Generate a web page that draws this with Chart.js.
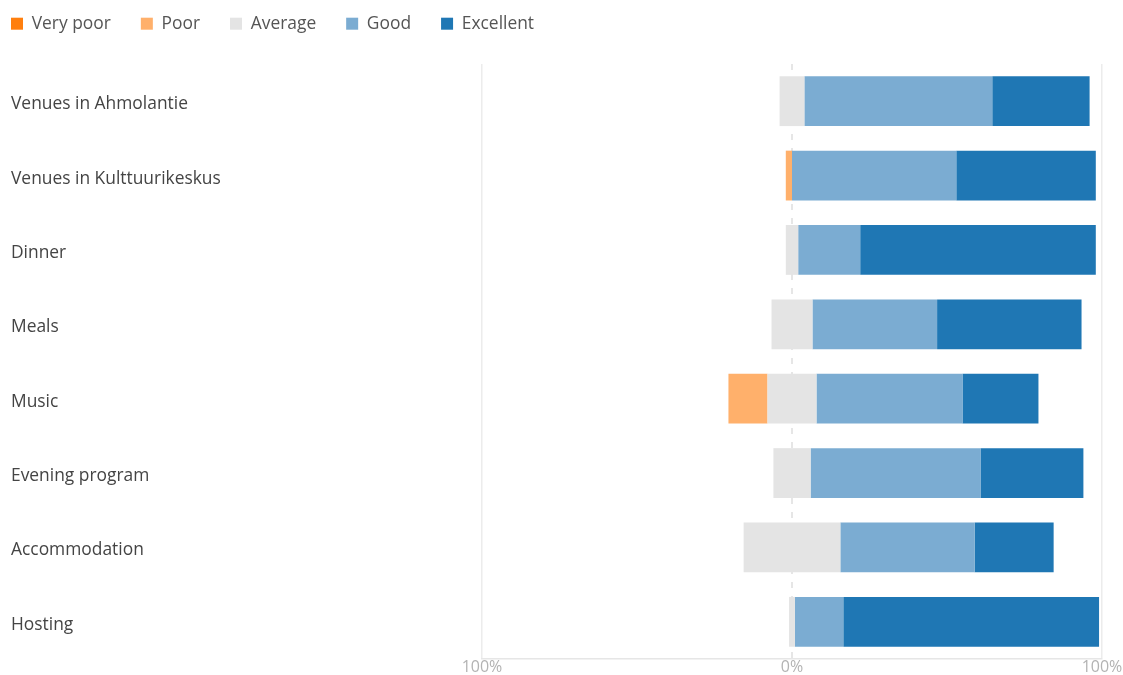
<!DOCTYPE html>
<html lang="en">
<head>
  <meta charset="UTF-8">
  <title>Feedback</title>
  <script src="https://cdn.jsdelivr.net/npm/chart.js"></script>
  <style>
    html, body {
      margin: 0;
      padding: 0;
      background: #fff;
    }
    #wrap {
      width: 1123px;
      height: 675px;
    }
  </style>
</head>
<body>
  <div id="wrap">
    <canvas id="chart"></canvas>
  </div>

  <script>
    // shares in percent
    const categories = ['Venues in Ahmolantie', 'Venues in Kulttuurikeskus', 'Dinner', 'Meals',
      'Music', 'Evening program', 'Accommodation', 'Hosting'];
    const veryPoor  = [0, 0, 0, 0, 0, 0, 0, 0];
    const poor      = [0, 2, 0, 0, 12.6, 0, 0, 0];
    const average   = [8, 0, 4, 13.2, 15.8, 12, 31.2, 1.9];
    const good      = [60.6, 53, 20, 40.2, 47.1, 54.8, 43.3, 15.6];
    const excellent = [31.4, 45, 76, 46.6, 24.5, 33.2, 25.5, 82.5];
    const xTicks = [-100, 0, 100];

    const FONT = "'Open Sans', 'Noto Sans', sans-serif";
    const legendRank = { 'Very poor': 0, 'Poor': 1, 'Average': 2, 'Good': 3, 'Excellent': 4 };

    // negative side stacks outwards from zero: half of average, poor, very poor
    const datasets = [
      { label: 'Average', data: average.map(v => -v / 2), backgroundColor: '#e4e4e4' },
      { label: 'Average2', data: average.map(v => v / 2), backgroundColor: '#e4e4e4' },
      { label: 'Poor', data: poor.map(v => -v), backgroundColor: '#ffb06b' },
      { label: 'Very poor', data: veryPoor.map(v => -v), backgroundColor: '#ff7f0e' },
      { label: 'Good', data: good, backgroundColor: '#7bacd2' },
      { label: 'Excellent', data: excellent, backgroundColor: '#1f77b4' }
    ];

    // dashed line at 0%
    const zeroLine = {
      id: 'zeroLine',
      beforeDatasetsDraw(chart) {
        const { ctx, chartArea, scales } = chart;
        const x = Math.round(scales.x.getPixelForValue(0));
        ctx.save();
        ctx.strokeStyle = '#dedede';
        ctx.lineWidth = 1.5;
        ctx.setLineDash([6, 8]);
        ctx.beginPath();
        ctx.moveTo(x, chartArea.top);
        ctx.lineTo(x, chartArea.bottom);
        ctx.stroke();
        ctx.restore();
      }
    };

    // legend sits tight in the top-left corner, plot starts lower down
    const legendPlace = {
      id: 'legendPlace',
      beforeLayout(chart) {
        const lg = chart.legend;
        if (lg && !lg._patched) {
          const fit = lg.fit;
          lg.fit = function () { fit.call(this); this.height = 64; };
          lg._patched = true;
        }
      },
      afterLayout(chart) {
        chart.legend.left = -19;
        chart.legend.top = -15;
      }
    };

    new Chart(document.getElementById('chart'), {
      type: 'bar',
      data: { labels: categories, datasets: datasets },
      plugins: [zeroLine, legendPlace],
      options: {
        indexAxis: 'y',
        responsive: true,
        maintainAspectRatio: false,
        animation: false,
        layout: { padding: { left: 11, right: 21, top: 0, bottom: 0 } },
        datasets: {
          bar: { barPercentage: 0.67, categoryPercentage: 1 }
        },
        plugins: {
          tooltip: { enabled: false },
          legend: {
            position: 'top',
            align: 'start',
            labels: {
              boxWidth: 12,
              boxHeight: 12,
              padding: 30,
              color: '#555',
              font: { family: FONT, size: 17.4 },
              filter: item => item.text !== 'Average2',
              sort: (a, b) => legendRank[a.text] - legendRank[b.text]
            }
          }
        },
        scales: {
          x: {
            stacked: true,
            min: -100,
            max: 100,
            afterBuildTicks: scale => { scale.ticks = xTicks.map(v => ({ value: v })); },
            ticks: {
              padding: 0,
              color: '#b3b3b3',
              font: { family: FONT, size: 16, lineHeight: 1 },
              callback: v => Math.abs(v) + '%'
            },
            grid: {
              drawTicks: false,
              lineWidth: ctx => ctx.tick && ctx.tick.value === 0 ? 0 : 1.5,
              color: '#ececec'
            },
            border: { display: true, color: '#e6e6e6', width: 1.5 }
          },
          y: {
            stacked: true,
            afterFit: scale => { scale.width = 471; },
            ticks: {
              crossAlign: 'far',
              labelOffset: 3,
              color: '#444',
              font: { family: FONT, size: 17.4 }
            },
            grid: { display: false },
            border: { display: false }
          }
        }
      }
    });
  </script>
</body>
</html>
